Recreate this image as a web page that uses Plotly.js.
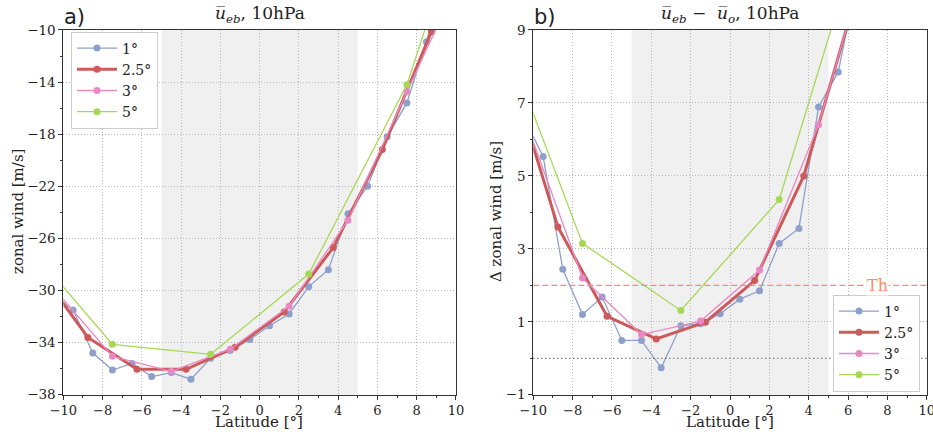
<!DOCTYPE html>
<html><head><meta charset="utf-8">
<script src="https://cdn.plot.ly/plotly-3.0.1.min.js"></script>
<style>html,body{margin:0;padding:0;background:#fff}#chart{width:933px;height:432px}</style>
</head><body><div id="chart"></div>
<script>
// ---- data (panel a: zonal wind, panel b: difference) ----
const lat1 = [-10.5,-9.5,-8.5,-7.5,-6.5,-5.5,-4.5,-3.5,-2.5,-1.5,-0.5,0.5,1.5,2.5,3.5,4.5,5.5,6.5,7.5,8.5,9.5];
const lat25 = [-11.25,-8.75,-6.25,-3.75,-1.25,1.25,3.75,6.25,8.75,11.25];
const lat3 = [-10.5,-7.5,-4.5,-1.5,1.5,4.5,7.5,10.5];
const lat5 = [-12.5,-7.5,-2.5,2.5,7.5,12.5];

const a1  = [-30.4,-31.5,-34.8,-36.1,-35.6,-36.6,-36.3,-36.8,-35.2,-34.6,-33.75,-32.7,-31.8,-29.7,-28.4,-24.1,-22.0,-18.2,-15.6,-10.9,-6.0];
const a25 = [-28.4,-33.6,-36.05,-36.05,-34.36,-31.65,-26.7,-19.18,-10.13,0.0];
const a3  = [-29.8,-35.05,-36.2,-34.5,-31.2,-24.6,-14.75,-5.0];
const a5  = [-25.3,-34.13,-34.9,-28.74,-14.2,8.8];

const b1  = [6.61,5.53,2.44,1.20,1.68,0.49,0.49,-0.26,0.89,0.95,1.22,1.62,1.85,3.15,3.56,6.89,7.85,10.5,12.0,13.5,15.0];
const b25 = [8.0,3.6,1.15,0.53,0.99,2.13,5.0,9.65,12.5,15.0];
const b3  = [6.68,2.2,0.65,1.02,2.42,6.4,11.97,15.0];
const b5  = [10.27,3.15,1.31,4.35,13.2,18.0];

const names = ['1°','2.5°','3°','5°'];
const colors = ['#8da0cb','#cd5a5a','#e78ac3','#a6d854'];
const widths = [1.3,3,1.3,1.3];
const threshold = 2;

const SERIF = 'DejaVu Serif, serif';
const traces = [];
const lats = [lat1,lat25,lat3,lat5];
const A = [a1,a25,a3,a5], B = [b1,b25,b3,b5];
for (let i=0;i<4;i++){
  traces.push({x:lats[i],y:A[i],name:names[i],mode:'lines+markers',xaxis:'x',yaxis:'y',
    line:{color:colors[i],width:widths[i]},marker:{color:colors[i],size:7},legend:'legend'});
}
for (let i=0;i<4;i++){
  traces.push({x:lats[i],y:B[i],name:names[i],mode:'lines+markers',xaxis:'x2',yaxis:'y2',
    line:{color:colors[i],width:widths[i]},marker:{color:colors[i],size:7},legend:'legend2'});
}

const ydom = [0.0862,0.9306];
const GRID = '#b5b5b5';
function xax(dom, anchor){
  return {domain:dom,anchor:anchor,range:[-10,10],tick0:-10,dtick:2,ticks:'outside',ticklen:4,tickcolor:'#333',
    showline:true,mirror:true,linecolor:'#333',linewidth:1,showgrid:true,gridcolor:GRID,griddash:'1px,2px',gridwidth:1,
    zeroline:false,tickfont:{family:SERIF,size:13,color:'#222'},ticklabeloverflow:'allow',
    minor:{dtick:1,ticklen:2.5,tickcolor:'#333',ticks:'outside',showgrid:false}};
}
function yax(anchor, range, tick0, dtick, mdtick){
  return {domain:ydom,anchor:anchor,range:range,tick0:tick0,dtick:dtick,ticks:'outside',ticklen:4,tickcolor:'#333',
    showline:true,mirror:true,linecolor:'#333',linewidth:1,showgrid:true,gridcolor:GRID,griddash:'1px,2px',gridwidth:1,
    zeroline:false,tickfont:{family:SERIF,size:13.5,color:'#222'},
    minor:{dtick:mdtick,tick0:tick0,ticklen:2.5,tickcolor:'#333',ticks:'outside',showgrid:false}};
}
const tfont = {family:SERIF,size:15,color:'#222'};
const layout = {
  width:933,height:432,margin:{l:0,r:0,t:0,b:0},paper_bgcolor:'#fff',plot_bgcolor:'#fff',
  showlegend:true,
  xaxis:xax([0.0679,0.4887],'y'),
  yaxis:yax('x',[-38,-10],-38,4,2),
  xaxis2:xax([0.5716,0.9933],'y2'),
  yaxis2:yax('x2',[-1,9],-1,2,1),
  legend:{x:71/933,y:1-80/432,xanchor:'left',yanchor:'middle',bgcolor:'rgba(255,255,255,0.9)',bordercolor:'#ccc',borderwidth:1,
    font:{family:SERIF,size:14,color:'#222'},tracegroupgap:0,itemwidth:40},
  legend2:{x:920/933,y:1-343/432,xanchor:'right',yanchor:'middle',bgcolor:'rgba(255,255,255,0.9)',bordercolor:'#ccc',borderwidth:1,
    font:{family:SERIF,size:14,color:'#222'},tracegroupgap:0,itemwidth:40},
  shapes:[
    {type:'rect',xref:'x',yref:'y domain',x0:-5,x1:5,y0:0,y1:1,fillcolor:'#f0f0f0',line:{width:0},layer:'below'},
    {type:'rect',xref:'x2',yref:'y2 domain',x0:-5,x1:5,y0:0,y1:1,fillcolor:'#f0f0f0',line:{width:0},layer:'below'},
    {type:'line',xref:'x2 domain',yref:'y2',x0:0,x1:1,y0:0,y1:0,line:{color:'#444',width:1.3,dash:'1px,3px'}},
    {type:'line',xref:'x2 domain',yref:'y2',x0:0,x1:1,y0:threshold,y1:threshold,line:{color:'#fc8d62',width:1.3,dash:'6px,3px'}}
  ],
  annotations:[
    {xref:'paper',yref:'paper',x:(63.3+456)/2/933,y:1-14/432,xanchor:'center',yanchor:'middle',showarrow:false,
      text:'<i>u̅</i><sub><i>eb</i></sub>, 10hPa',font:{family:SERIF,size:17,color:'#222'}},
    {xref:'paper',yref:'paper',x:(533.3+926.7)/2/933,y:1-14/432,xanchor:'center',yanchor:'middle',showarrow:false,
      text:'<i>u̅</i><sub><i>eb</i></sub> −  <i>u̅</i><sub><i>o</i></sub>, 10hPa',font:{family:SERIF,size:17,color:'#222'}},
    {xref:'paper',yref:'paper',x:62/933,y:1-17/432,xanchor:'left',yanchor:'middle',showarrow:false,
      text:'a)',font:{family:'DejaVu Sans, sans-serif',size:21,color:'#222'}},
    {xref:'paper',yref:'paper',x:532/933,y:1-17/432,xanchor:'left',yanchor:'middle',showarrow:false,
      text:'b)',font:{family:'DejaVu Sans, sans-serif',size:21,color:'#222'}},
    {xref:'paper',yref:'paper',x:259/933,y:0,xanchor:'center',yanchor:'bottom',showarrow:false,borderpad:0,
      text:'Latitude [°]',font:tfont},
    {xref:'paper',yref:'paper',x:730/933,y:0,xanchor:'center',yanchor:'bottom',showarrow:false,borderpad:0,
      text:'Latitude [°]',font:tfont},
    {xref:'paper',yref:'paper',x:18/933,y:1-212/432,xanchor:'center',yanchor:'middle',showarrow:false,textangle:-90,
      text:'zonal wind [m/s]',font:tfont},
    {xref:'paper',yref:'paper',x:496/933,y:1-212/432,xanchor:'center',yanchor:'middle',showarrow:false,textangle:-90,
      text:'Δ zonal wind [m/s]',font:tfont},
    {xref:'x2',yref:'y2',x:7.5,y:threshold,showarrow:false,text:'Th',bgcolor:'#fff',borderpad:0,
      font:{family:SERIF,size:16,color:'#fc8d62'}}
  ]
};
Plotly.newPlot('chart',traces,layout,{displayModeBar:false,staticPlot:true});
</script></body></html>
